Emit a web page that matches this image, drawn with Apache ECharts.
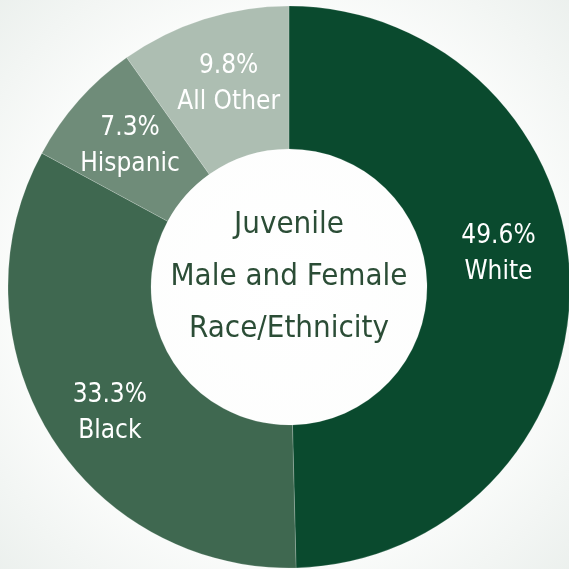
<!DOCTYPE html>
<html>
<head>
<meta charset="utf-8">
<script src="https://cdn.jsdelivr.net/npm/echarts@6/dist/echarts.min.js"></script>
<style>
  html, body { margin: 0; padding: 0; }
  #main { width: 569px; height: 569px; }
</style>
</head>
<body>
<div id="main"></div>
<script>
// data
var groups = ['White', 'Black', 'Hispanic', 'All Other'];
var shares = [49.6, 33.3, 7.3, 9.8];
var sliceColors = ['#0a4a2e', '#3f6850', '#6f8c79', '#adbeb2'];
var centerTitle = ['Juvenile', 'Male and Female', 'Race/Ethnicity'];

var narrow = "'DejaVu Sans Condensed', 'Liberation Sans Narrow', sans-serif";

var myChart = echarts.init(document.getElementById('main'));

// small nudges so the labels sit where they do in the picture
var labelOffsets = [[-3, -30], [2, 15], [0, 0], [4, 0]];

var pieData = [];
for (var i = 0; i < groups.length; i++) {
    pieData.push({
        value: shares[i],
        name: groups[i],
        itemStyle: { color: sliceColors[i] },
        label: { offset: labelOffsets[i] }
    });
}

var option = {
    backgroundColor: {
        type: 'radial', x: 0.5, y: 0.5, r: 0.75,
        colorStops: [
            { offset: 0, color: '#ffffff' },
            { offset: 0.6, color: '#fcfdfc' },
            { offset: 1, color: '#e9eeeb' }
        ]
    },
    animation: false,
    graphic: [{
        type: 'text',
        x: 289,
        y: 277,
        style: {
            text: centerTitle.join('\n'),
            fill: '#2b4d36',
            font: '31px ' + narrow,
            lineHeight: 52,
            align: 'center',
            verticalAlign: 'middle'
        }
    }],
    series: [{
        name: 'Race/Ethnicity',
        type: 'pie',
        center: [289, 287],
        radius: [138, 281],
        startAngle: 90,
        clockwise: true,
        avoidLabelOverlap: false,
        minShowLabelAngle: 0,
        itemStyle: {
            borderColor: 'rgba(255,255,255,0.35)',
            borderWidth: 0.5
        },
        label: {
            show: true,
            position: 'inside',
            color: '#ffffff',
            fontFamily: narrow,
            fontSize: 26,
            lineHeight: 36,
            formatter: function (p) {
                return p.value.toFixed(1) + '%\n' + p.name;
            }
        },
        labelLayout: { hideOverlap: false },
        labelLine: { show: false },
        emphasis: { disabled: true },
        data: pieData
    }]
};
myChart.setOption(option);
</script>
</body>
</html>
